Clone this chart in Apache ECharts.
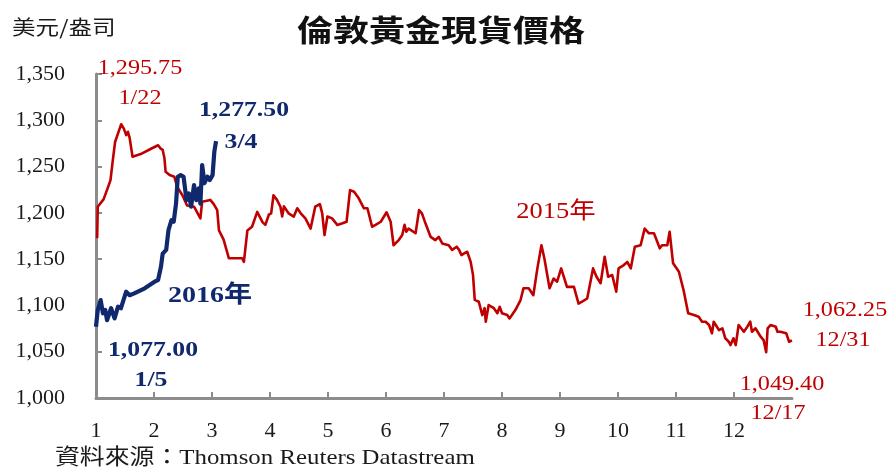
<!DOCTYPE html>
<html>
<head>
<meta charset="utf-8">
<title>倫敦黃金現貨價格</title>
<script src="https://cdn.jsdelivr.net/npm/echarts@6/dist/echarts.min.js"></script>
<style>
  html, body { margin: 0; padding: 0; background: #ffffff; }
  #chart { width: 889px; height: 470px; }
</style>
</head>
<body>
<div id="chart"></div>
<script>
// Month position (1 = start of January) and London spot gold price, US$/oz
const gold2015Month = [
  1.02, 1.03, 1.13, 1.20, 1.25, 1.29, 1.33, 1.38, 1.434, 1.48, 1.52, 1.55, 1.58, 1.63, 1.77, 1.94,
  2.07, 2.11, 2.15, 2.18, 2.20, 2.27, 2.35, 2.40, 2.49, 2.57, 2.69, 2.80, 2.83, 2.97, 3.03, 3.09,
  3.12, 3.20, 3.29, 3.52, 3.55, 3.61, 3.69, 3.78, 3.87, 3.92, 3.98, 4.02, 4.06, 4.12, 4.18, 4.21,
  4.24, 4.32, 4.41, 4.47, 4.53, 4.61, 4.70, 4.78, 4.86, 4.90, 4.94, 4.99, 5.07, 5.16, 5.25, 5.32,
  5.38, 5.45, 5.53, 5.62, 5.68, 5.76, 5.82, 5.91, 6.01, 6.08, 6.13, 6.22, 6.28, 6.32, 6.35, 6.39,
  6.51, 6.57, 6.62, 6.68, 6.77, 6.85, 6.91, 6.97, 7.08, 7.14, 7.22, 7.26, 7.30, 7.34, 7.40, 7.46,
  7.50, 7.53, 7.60, 7.63, 7.66, 7.70, 7.72, 7.77, 7.86, 7.92, 7.96, 8.00, 8.09, 8.13, 8.23, 8.32,
  8.37, 8.46, 8.54, 8.61, 8.68, 8.73, 8.82, 8.89, 8.95, 9.02, 9.12, 9.24, 9.32, 9.38, 9.47, 9.57,
  9.63, 9.70, 9.77, 9.83, 9.90, 9.97, 10.01, 10.10, 10.16, 10.22, 10.29, 10.39, 10.46, 10.53, 10.62, 10.72,
  10.76, 10.85, 10.89, 10.95, 11.05, 11.13, 11.21, 11.31, 11.39, 11.45, 11.51, 11.57, 11.62, 11.65, 11.74, 11.80,
  11.85, 11.91, 11.94, 11.99, 12.03, 12.08, 12.17, 12.23, 12.28, 12.31, 12.37, 12.46, 12.51, 12.555, 12.58, 12.63,
  12.72, 12.75, 12.80, 12.90, 12.95, 13.00
];
const gold2015Price = [
  1172.5, 1206.6, 1214.6, 1226.5, 1235.4, 1257.0, 1276.8, 1285.9, 1295.75, 1291.0, 1284.0, 1287.6, 1281.0, 1260.6, 1263.5, 1269.0,
  1273.0, 1269.7, 1268.0, 1259.0, 1244.4, 1240.8, 1239.0, 1228.0, 1219.0, 1208.0, 1206.6, 1194.0, 1212.0, 1214.0, 1209.5, 1203.0,
  1181.0, 1171.0, 1151.0, 1151.0, 1147.0, 1181.0, 1185.0, 1201.0, 1190.0, 1187.0, 1198.0, 1199.5, 1219.0, 1214.0, 1206.6, 1196.0,
  1207.0, 1199.5, 1196.0, 1205.0, 1199.5, 1194.0, 1183.0, 1206.6, 1209.5, 1199.5, 1176.0, 1196.0, 1194.0, 1187.0, 1188.7, 1190.4,
  1224.6, 1222.8, 1215.7, 1204.9, 1205.0, 1185.0, 1187.0, 1190.4, 1200.6, 1190.4, 1165.0, 1170.6, 1176.0, 1187.0, 1179.6, 1183.0,
  1178.0, 1203.0, 1199.5, 1188.7, 1174.0, 1170.6, 1174.0, 1167.0, 1165.0, 1160.0, 1163.4, 1160.0, 1154.4, 1156.0, 1158.0, 1147.0,
  1133.0, 1106.0, 1104.0, 1104.8, 1089.6, 1097.0, 1082.4, 1100.4, 1097.0, 1091.5, 1098.6, 1091.5, 1089.6, 1086.0, 1095.0, 1105.8,
  1118.5, 1118.5, 1111.0, 1140.0, 1165.0, 1151.0, 1118.5, 1129.0, 1125.6, 1140.0, 1120.0, 1120.0, 1102.0, 1104.0, 1107.7, 1140.0,
  1131.0, 1124.0, 1152.6, 1131.0, 1132.8, 1114.8, 1140.0, 1143.6, 1147.0, 1140.0, 1163.4, 1165.0, 1183.0, 1178.0, 1178.0, 1161.7,
  1165.0, 1165.0, 1179.6, 1145.5, 1136.4, 1116.6, 1091.5, 1089.6, 1087.8, 1082.4, 1082.4, 1078.8, 1070.0, 1082.4, 1073.4, 1075.3,
  1064.5, 1060.8, 1057.2, 1064.5, 1057.2, 1078.8, 1071.6, 1077.0, 1082.4, 1071.6, 1075.3, 1066.2, 1062.6, 1049.40, 1075.3, 1078.8,
  1077.0, 1071.6, 1071.6, 1070.0, 1060.8, 1062.25
];

const gold2016Month = [
  1.00, 1.03, 1.08, 1.12, 1.16, 1.19, 1.26, 1.32, 1.38, 1.43, 1.52, 1.58, 1.66, 1.84, 2.01, 2.07,
  2.12, 2.15, 2.21, 2.25, 2.30, 2.34, 2.38, 2.41, 2.46, 2.51, 2.56, 2.60, 2.64, 2.69, 2.73, 2.77,
  2.80, 2.83, 2.87, 2.92, 2.96, 3.01, 3.04, 3.07
];
const gold2016Price = [
  1077.00, 1095.0, 1105.8, 1091.5, 1095.0, 1084.0, 1097.0, 1086.0, 1098.6, 1097.0, 1114.8, 1111.0, 1113.0, 1118.5, 1125.6, 1127.4,
  1141.8, 1156.0, 1160.0, 1181.4, 1192.0, 1190.4, 1210.0, 1239.0, 1240.8, 1239.0, 1213.8, 1221.0, 1206.6, 1230.0, 1213.8, 1226.5,
  1210.0, 1251.6, 1232.0, 1239.0, 1235.4, 1240.8, 1266.0, 1277.50
];

// Axis ticks
const monthTicks = [1, 2, 3, 4, 5, 6, 7, 8, 9, 10, 11, 12];
const priceMin = 1000, priceMax = 1350, priceStep = 50;

// Annotated dates
const peak2015Date = '1/22', low2015Date = '12/17', last2015Date = '12/31';
const first2016Date = '1/5', last2016Date = '3/4';

const RED = '#c00000';
const BLUE = '#10286e';
const SERIF = "'Liberation Serif', 'Times New Roman', 'Noto Sans CJK TC', serif";
const CJK = "'Noto Sans CJK TC', 'Liberation Serif', serif";
const STRETCH = 1.15;

const fmt = (v, d) => v.toLocaleString('en-US', { minimumFractionDigits: d, maximumFractionDigits: d });

const peak2015 = Math.max(...gold2015Price);
const low2015 = Math.min(...gold2015Price);
const last2015 = gold2015Price[gold2015Price.length - 1];
const first2016 = gold2016Price[0];
const last2016 = gold2016Price[gold2016Price.length - 1];

const zip = (xs, ys) => xs.map((x, i) => [x, ys[i]]);

// Text drawn at an anchor point, widened slightly like the typeface in the original layout
function txt(text, x, y, color, size, opts) {
  opts = opts || {};
  return {
    type: 'text',
    x: x, y: y,
    scaleX: opts.scaleX || STRETCH,
    scaleY: 1,
    z: 10,
    style: {
      text: text,
      fill: color,
      font: (opts.bold ? 'bold ' : '') + size + 'px ' + (opts.family || SERIF),
      align: opts.align || 'center',
      verticalAlign: 'middle'
    }
  };
}

const chart = echarts.init(document.getElementById('chart'), null, { renderer: 'canvas' });

chart.setOption({
  backgroundColor: '#ffffff',
  animation: false,
  grid: { left: 96, right: 97, top: 74, bottom: 72, containLabel: false },
  xAxis: {
    type: 'value',
    min: 1,
    max: 13,
    interval: 1,
    axisLine: { show: true, lineStyle: { color: '#8c8c8c', width: 3 } },
    axisTick: { show: true, inside: true, length: 6, customValues: monthTicks, lineStyle: { color: '#8c8c8c', width: 2 } },
    axisLabel: {
      customValues: monthTicks,
      margin: 22,
      color: '#1a1a1a',
      fontFamily: SERIF,
      fontSize: 22
    },
    splitLine: { show: false }
  },
  yAxis: {
    type: 'value',
    min: priceMin,
    max: priceMax,
    interval: priceStep,
    axisLine: { show: true, lineStyle: { color: '#8c8c8c', width: 3 } },
    axisTick: { show: true, inside: true, length: 6, lineStyle: { color: '#8c8c8c', width: 2 } },
    axisLabel: {
      margin: 31,
      color: '#1a1a1a',
      fontFamily: SERIF,
      fontSize: 22,
      formatter: v => fmt(v, 0)
    },
    splitLine: { show: false }
  },
  series: [
    {
      name: '2015年',
      type: 'line',
      data: zip(gold2015Month, gold2015Price),
      showSymbol: false,
      lineStyle: { color: RED, width: 2.6, join: 'round' },
      itemStyle: { color: RED },
      z: 2
    },
    {
      name: '2016年',
      type: 'line',
      data: zip(gold2016Month, gold2016Price),
      showSymbol: false,
      lineStyle: { color: BLUE, width: 4.2, join: 'round' },
      itemStyle: { color: BLUE },
      z: 3
    }
  ],
  graphic: [
    txt('倫敦黃金現貨價格', 441, 30, '#111111', 30, { bold: true, family: CJK, scaleX: 1.2 }),
    txt('美元/盎司', 12, 27, '#1a1a1a', 20, { align: 'left', family: CJK, scaleX: 1.18 }),
    txt(fmt(peak2015, 2), 140, 68, RED, 21),
    txt(peak2015Date, 140, 98, RED, 21),
    txt(fmt(last2016, 2), 244, 110, BLUE, 22, { bold: true, scaleX: 1.17 }),
    txt(last2016Date, 241, 142, BLUE, 22, { bold: true, scaleX: 1.17 }),
    txt('2016年', 210, 296, BLUE, 24, { bold: true, scaleX: 1.17 }),
    txt(fmt(first2016, 2), 153, 350, BLUE, 22, { bold: true, scaleX: 1.17 }),
    txt(first2016Date, 151, 380, BLUE, 22, { bold: true, scaleX: 1.17 }),
    txt('2015年', 556, 212, RED, 23),
    txt(fmt(last2015, 2), 845, 310, RED, 21),
    txt(last2015Date, 843, 340, RED, 21),
    txt(fmt(low2015, 2), 782, 384, RED, 21),
    txt(low2015Date, 778, 413, RED, 21),
    txt('資料來源：Thomson Reuters Datastream', 55, 458, '#1a1a1a', 22, { align: 'left', scaleX: 1.13 })
  ]
});
</script>
</body>
</html>
